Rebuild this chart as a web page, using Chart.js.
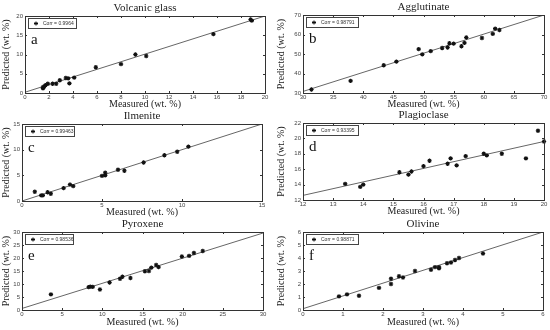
<!DOCTYPE html>
<html><head><meta charset="utf-8">
<script src="https://cdn.jsdelivr.net/npm/chart.js@4/dist/chart.umd.min.js"></script>
<style>
html,body{margin:0;padding:0;background:#fff;width:550px;height:330px;overflow:hidden}
.p{position:absolute;width:275px;height:110px}
</style></head><body>
<div class="p" style="left:0;top:0"><canvas id="c0"></canvas></div>
<div class="p" style="left:275px;top:0"><canvas id="c1"></canvas></div>
<div class="p" style="left:0;top:110px"><canvas id="c2"></canvas></div>
<div class="p" style="left:275px;top:110px"><canvas id="c3"></canvas></div>
<div class="p" style="left:0;top:220px"><canvas id="c4"></canvas></div>
<div class="p" style="left:275px;top:220px"><canvas id="c5"></canvas></div>
<script>
// ---- data ----
const titles = ["Volcanic glass","Agglutinate","Ilmenite","Plagioclase","Pyroxene","Olivine"];
const letters = ["a","b","c","d","e","f"];
const corrLabels = ["Corr = 0.9964","Corr = 0.98791","Corr = 0.99463","Corr = 0.93395","Corr = 0.98536","Corr = 0.98871"];

const glassMeasured  = [1.5,1.5,1.6,1.7,1.9,2.3,2.6,2.9,3.4,3.6,3.7,4.1,5.9,8.0,9.2,10.1,15.7,18.8,18.9];
const glassPredicted = [1.2,1.5,1.7,2.0,2.4,2.4,2.4,3.3,3.9,3.8,2.5,4.0,6.7,7.5,10.0,9.6,15.3,19.1,18.8];
const glassFit = [[0,0.2],[20,20]];

const agglMeasured  = [31.4,37.9,43.4,45.5,49.2,49.8,51.2,53.1,54.0,54.3,55.0,56.3,56.8,57.1,59.7,61.5,61.9,62.6];
const agglPredicted = [31.8,36.2,44.2,46.1,52.5,49.8,51.5,53.1,53.3,55.5,55.3,54.0,55.7,58.5,58.2,60.3,63.0,62.3];
const agglFit = [[30,30.8],[70,70]];

const ilmMeasured  = [0.8,1.2,1.3,1.6,1.8,2.6,3.0,3.2,5.0,5.2,5.2,6.0,6.4,7.6,8.9,9.7,10.4];
const ilmPredicted = [1.8,1.1,1.1,1.7,1.4,2.5,3.2,2.9,4.9,5.0,5.5,6.1,5.9,7.5,8.9,9.6,10.6];
const ilmFit = [[0,0],[15,15]];

const plagMeasured  = [13.4,13.9,14.0,15.2,15.5,15.6,16.0,16.2,16.8,16.9,17.1,17.4,18.0,18.1,18.6,19.4,19.8,20.0];
const plagPredicted = [14.1,13.7,14.0,15.6,15.3,15.7,16.4,17.1,16.7,17.4,16.5,17.7,18.0,17.8,18.0,17.4,21.0,19.6];
const plagFit = [[12,12.6],[20,19.6]];

const pyxMeasured  = [3.6,8.3,8.5,8.8,9.7,10.9,12.2,12.5,13.5,15.3,15.8,16.1,16.7,17.0,19.9,20.8,21.4,22.5];
const pyxPredicted = [6.0,8.8,9.0,8.9,7.9,10.6,12.0,12.8,12.3,14.9,15.0,16.3,17.3,16.5,20.6,20.8,21.9,22.7];
const pyxFit = [[0,0.6],[30,29.6]];

const olMeasured  = [0.9,1.1,1.4,1.9,2.2,2.2,2.4,2.5,2.8,3.2,3.3,3.4,3.4,3.6,3.7,3.8,3.9,4.5];
const olPredicted = [1.05,1.2,1.1,1.7,2.0,2.4,2.6,2.5,3.0,3.1,3.3,3.2,3.3,3.6,3.65,3.85,4.0,4.35];
const olFit = [[0,0.1],[6,6]];

const xRanges = [[0,20,2],[30,70,5],[0,15,5],[12,20,1],[0,30,5],[0,6,1]];
const yRanges = [[0,20,5],[30,70,10],[0,15,5],[12,22,2],[0,30,5],[0,6,1]];

const measured = [glassMeasured,agglMeasured,ilmMeasured,plagMeasured,pyxMeasured,olMeasured];
const predicted = [glassPredicted,agglPredicted,ilmPredicted,plagPredicted,pyxPredicted,olPredicted];
const fits = [glassFit,agglFit,ilmFit,plagFit,pyxFit,olFit];

// ---- layout (style) ----
const layouts = [
  {l:25,r:10,t:16,h:17,pb:0,legW:48},
  {l:28,r:6, t:15,h:17,pb:0,legW:52},
  {l:22,r:13,t:14,h:17,pb:2,legW:49},
  {l:28,r:6, t:13,h:17,pb:3,legW:52},
  {l:22,r:12,t:12,h:18,pb:2,legW:48},
  {l:28,r:7, t:12,h:18,pb:2,legW:52}
];

const SERIF = '"Liberation Serif","Times New Roman",serif';
const SANS = '"Liberation Sans",Arial,sans-serif';

function drawStar(ctx,x,y,r){
  ctx.beginPath();
  for(let i=0;i<4;i++){
    const a=i*Math.PI/4;
    ctx.moveTo(x-r*Math.cos(a),y-r*Math.sin(a));
    ctx.lineTo(x+r*Math.cos(a),y+r*Math.sin(a));
  }
  ctx.stroke();
}

const deco = {
  id:'deco',
  afterDraw(chart,args,o){
    const ctx=chart.ctx, a=chart.chartArea;
    const xs=chart.scales.x, ys=chart.scales.y;
    ctx.save();
    ctx.strokeStyle='#333'; ctx.lineWidth=1;
    ctx.strokeRect(Math.round(a.left)+0.5,Math.round(a.top)+0.5,Math.round(a.right-a.left),Math.round(a.bottom-a.top));
    ctx.beginPath();
    xs.ticks.forEach(t=>{const px=Math.round(xs.getPixelForValue(t.value))+0.5;
      ctx.moveTo(px,a.bottom);ctx.lineTo(px,a.bottom-2);ctx.moveTo(px,a.top);ctx.lineTo(px,a.top+2);});
    ys.ticks.forEach(t=>{const py=Math.round(ys.getPixelForValue(t.value))+0.5;
      ctx.moveTo(a.left,py);ctx.lineTo(a.left+2,py);ctx.moveTo(a.right,py);ctx.lineTo(a.right-2,py);});
    ctx.stroke();
    // title
    ctx.fillStyle='#222'; ctx.font='11px '+SERIF; ctx.textAlign='center'; ctx.textBaseline='bottom';
    ctx.fillText(o.title,(a.left+a.right)/2,a.top-2);
    // legend
    const bx=Math.round(a.left)+3, by=Math.round(a.top)+2, bw=o.legW, bh=10;
    ctx.fillStyle='#fff'; ctx.fillRect(bx,by,bw,bh);
    ctx.strokeStyle='#444'; ctx.strokeRect(bx+0.5,by+0.5,bw,bh);
    ctx.strokeStyle='#111'; ctx.lineWidth=1;
    drawStar(ctx,bx+8,by+5.5,2);
    ctx.fillStyle='#333'; ctx.font='5px '+SANS; ctx.textAlign='left'; ctx.textBaseline='middle';
    ctx.fillText(o.corr,bx+15,by+6);
    // panel letter
    ctx.fillStyle='#111'; ctx.font='15px '+SERIF; ctx.textAlign='left'; ctx.textBaseline='alphabetic';
    ctx.fillText(o.letter,a.left+6,a.top+28);
    ctx.restore();
  }
};

const starPlugin = {
  id:'stars',
  afterDatasetsDraw(chart){
    const meta=chart.getDatasetMeta(0), ctx=chart.ctx;
    ctx.save(); ctx.strokeStyle='#111'; ctx.lineWidth=1.1;
    meta.data.forEach(p=>drawStar(ctx,p.x,p.y,2.2));
    ctx.restore();
  }
};

for(let i=0;i<6;i++){
  const L=layouts[i];
  const pts=measured[i].map((m,k)=>({x:m,y:predicted[i][k]}));
  const fit=fits[i].map(p=>({x:p[0],y:p[1]}));
  new Chart(document.getElementById('c'+i),{
    type:'scatter',
    data:{datasets:[
      {data:pts,pointRadius:0,pointHoverRadius:0,showLine:false,borderColor:'#111',backgroundColor:'#111'},
      {data:fit,type:'line',showLine:true,pointRadius:0,borderColor:'#666',borderWidth:1,fill:false}
    ]},
    options:{
      responsive:true,maintainAspectRatio:false,animation:false,
      layout:{padding:{left:0,right:L.r,top:L.t,bottom:L.pb}},
      plugins:{legend:{display:false},tooltip:{enabled:false},
        deco:{title:titles[i],letter:letters[i],corr:corrLabels[i],legW:L.legW}},
      scales:{
        x:{type:'linear',min:xRanges[i][0],max:xRanges[i][1],
          afterFit(s){s.height=L.h;},
          grid:{display:false,drawTicks:false},border:{display:false},
          ticks:{stepSize:xRanges[i][2],padding:1,color:'#444',font:{family:SANS,size:6},maxRotation:0,autoSkip:false},
          title:{display:true,text:'Measured (wt. %)',color:'#222',font:{family:SERIF,size:10},padding:{top:0,bottom:0}}},
        y:{type:'linear',min:yRanges[i][0],max:yRanges[i][1],
          afterFit(s){s.width=L.l;},
          grid:{display:false,drawTicks:false},border:{display:false},
          ticks:{stepSize:yRanges[i][2],padding:2,color:'#444',font:{family:SANS,size:6},autoSkip:false},
          title:{display:true,text:'Predicted (wt. %)',color:'#222',font:{family:SERIF,size:10},padding:{top:0,bottom:0}}}
      }
    },
    plugins:[deco,starPlugin]
  });
}
</script>
</body></html>
